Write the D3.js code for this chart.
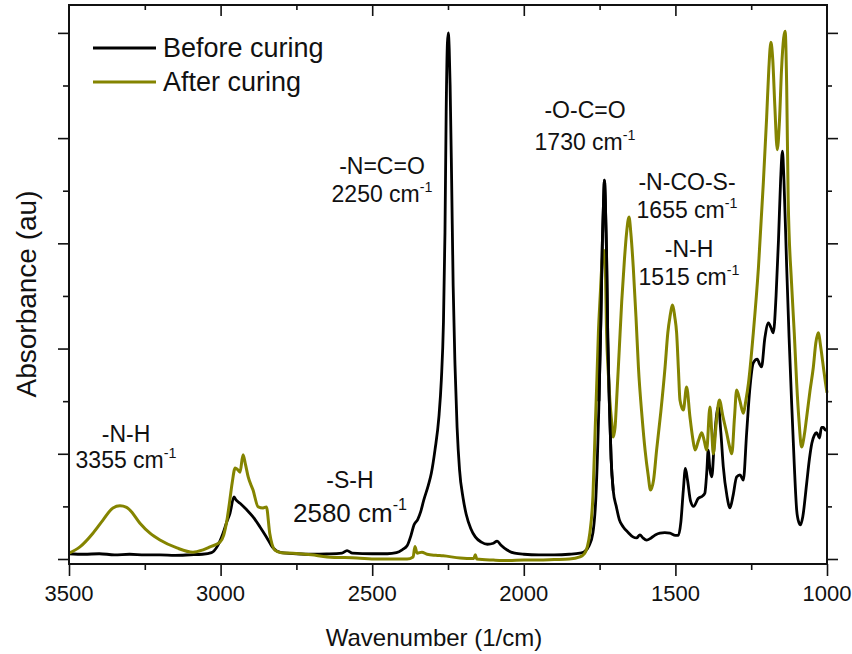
<!DOCTYPE html>
<html><head><meta charset="utf-8">
<script src="https://cdn.jsdelivr.net/npm/d3@7"></script>
<style>
body{margin:0;background:#fff;}
svg{display:block;font-family:"Liberation Sans",Arial,sans-serif;}
</style></head>
<body><svg id="c" width="852" height="654"></svg>
<script>
// ---- data ----
const beforeWave = [3500,3450,3400,3350,3300,3250,3200,3150,3100,3060,3030,3010,2992,2980,2969,2956,2950,2936,2913,2893,2870,2849,2827,2800,2750,2700,2650,2600,2583,2565,2500,2450,2420,2400,2385,2372,2362,2350,2340,2330,2315,2305,2293,2280,2272,2265,2260,2256,2252,2249,2246,2243,2238,2233,2227,2220,2212,2200,2190,2175,2160,2140,2120,2100,2088,2075,2055,2030,2000,1950,1900,1850,1815,1800,1785,1772,1762,1752,1746,1741,1737,1734,1731,1727,1723,1718,1712,1705,1695,1685,1672,1655,1640,1628,1617,1607,1595,1580,1565,1551,1535,1518,1500,1490,1482,1474,1467,1460,1450,1440,1425,1410,1403,1396,1392,1386,1380,1372,1364,1358,1350,1342,1330,1320,1310,1298,1287,1276,1265,1255,1243,1230,1222,1216,1205,1193,1185,1177,1168,1160,1153,1147,1142,1133,1125,1117,1108,1100,1093,1087,1080,1067,1058,1050,1042,1034,1025,1018,1012,1005,1000];
const beforeAbs = [0.010,0.009,0.010,0.008,0.009,0.008,0.008,0.007,0.008,0.009,0.012,0.025,0.049,0.070,0.087,0.118,0.113,0.106,0.093,0.080,0.061,0.042,0.021,0.012,0.010,0.009,0.0095,0.011,0.016,0.011,0.010,0.010,0.012,0.018,0.025,0.045,0.065,0.075,0.090,0.112,0.140,0.163,0.207,0.270,0.340,0.450,0.620,0.850,0.980,1.000,0.970,0.900,0.720,0.520,0.370,0.250,0.170,0.115,0.085,0.058,0.042,0.032,0.028,0.030,0.034,0.026,0.017,0.011,0.009,0.008,0.008,0.009,0.011,0.014,0.025,0.050,0.120,0.300,0.450,0.600,0.680,0.720,0.680,0.580,0.420,0.300,0.190,0.130,0.100,0.075,0.061,0.050,0.042,0.040,0.046,0.040,0.036,0.040,0.046,0.049,0.050,0.049,0.045,0.045,0.070,0.130,0.172,0.150,0.110,0.100,0.115,0.120,0.125,0.170,0.207,0.170,0.156,0.220,0.275,0.290,0.240,0.175,0.120,0.097,0.120,0.156,0.160,0.150,0.240,0.320,0.373,0.380,0.370,0.365,0.420,0.449,0.440,0.430,0.500,0.606,0.720,0.775,0.720,0.555,0.420,0.302,0.180,0.093,0.070,0.065,0.080,0.144,0.190,0.220,0.235,0.240,0.230,0.250,0.250,0.245,0.245];
const afterWave = [3500,3464,3421,3388,3355,3332,3310,3299,3266,3233,3200,3144,3091,3060,3035,3002,2990,2979,2970,2962,2952,2944,2936,2926,2918,2909,2893,2876,2860,2849,2838,2821,2800,2761,2700,2649,2550,2484,2420,2385,2365,2359,2352,2336,2319,2290,2266,2210,2165,2160,2155,2100,2050,2000,1950,1900,1850,1815,1800,1782,1772,1765,1759,1754,1748,1743,1736,1731,1727,1721,1716,1710,1705,1699,1694,1685,1677,1668,1661,1653,1647,1639,1630,1622,1610,1600,1590,1582,1572,1562,1548,1534,1525,1518,1509,1502,1496,1490,1485,1474,1463,1452,1443,1435,1424,1413,1405,1397,1386,1380,1375,1365,1355,1343,1331,1322,1314,1305,1298,1287,1276,1268,1259,1243,1226,1210,1199,1192,1185,1179,1172,1164,1157,1150,1143,1138,1133,1128,1117,1108,1100,1092,1084,1075,1067,1056,1045,1037,1029,1020,1012,1005,1000];
const afterAbs = [0.011,0.023,0.049,0.074,0.097,0.101,0.098,0.093,0.068,0.049,0.036,0.021,0.013,0.017,0.023,0.032,0.045,0.074,0.110,0.144,0.173,0.170,0.165,0.198,0.180,0.156,0.131,0.099,0.097,0.099,0.049,0.017,0.012,0.011,0.008,0.004,0.002,0.000,0.000,0.000,0.004,0.024,0.011,0.013,0.009,0.007,0.006,0.002,0.001,0.008,0.000,-0.002,-0.003,-0.002,-0.002,-0.001,0.000,0.004,0.010,0.050,0.120,0.240,0.340,0.430,0.500,0.555,0.587,0.550,0.430,0.350,0.300,0.260,0.232,0.250,0.300,0.400,0.490,0.570,0.620,0.650,0.620,0.555,0.460,0.365,0.270,0.207,0.160,0.131,0.150,0.207,0.280,0.365,0.430,0.460,0.483,0.460,0.430,0.360,0.302,0.283,0.327,0.270,0.230,0.207,0.225,0.240,0.225,0.207,0.289,0.240,0.200,0.260,0.302,0.270,0.240,0.215,0.200,0.270,0.321,0.300,0.277,0.300,0.334,0.430,0.555,0.715,0.840,0.930,0.982,0.950,0.860,0.778,0.830,0.930,0.990,1.003,0.900,0.682,0.525,0.430,0.334,0.260,0.213,0.235,0.270,0.320,0.365,0.410,0.430,0.400,0.365,0.335,0.316];
const seriesNames = ["Before curing","After curing"];
const seriesColors = ["#000000","#848400"];
const xMajorTicks = [3500,3000,2500,2000,1500,1000];
const xMinorTicks = [3250,2750,2250,1750,1250];
const yMajorTicks = [0,0.2,0.4,0.6,0.8,1.0];
const yMinorTicks = [0.1,0.3,0.5,0.7,0.9];
const annGroups = ["-N-H","-S-H","-N=C=O","-O-C=O","-N-CO-S-","-N-H"];
const annPeaks = ["3355","2580","2250","1730","1655","1515"];

// ---- layout ----
const L=69, R=827, T=5, B=564;
const x = d3.scaleLinear().domain([3500,1000]).range([L,R]);
const y = d3.scaleLinear().domain([-0.0095,1.053]).range([B,T]);
const svg = d3.select("#c");

function ax(gen, tr, vals, size){
  const g = svg.append("g").attr("transform",tr)
    .call(gen.tickValues(vals).tickSize(size).tickSizeOuter(0).tickFormat(""));
  g.select(".domain").remove();
  g.selectAll("line").attr("stroke","#111").attr("stroke-width",1.6);
  return g;
}
ax(d3.axisBottom(x), `translate(0,${B})`, xMajorTicks, 12);
ax(d3.axisBottom(x), `translate(0,${B})`, xMinorTicks, 6);
ax(d3.axisBottom(x), `translate(0,${T})`, xMajorTicks.slice(1,-1), 11);
ax(d3.axisBottom(x), `translate(0,${T})`, xMinorTicks, 5);
ax(d3.axisLeft(y), `translate(${L},0)`, yMajorTicks, 11);
ax(d3.axisLeft(y), `translate(${L},0)`, yMinorTicks, 6);
ax(d3.axisLeft(y), `translate(${R},0)`, yMajorTicks, -11);
ax(d3.axisLeft(y), `translate(${R},0)`, yMinorTicks, -5);

svg.append("g").selectAll("text").data(xMajorTicks).join("text")
  .attr("x",d=>x(d)).attr("y",601).attr("text-anchor","middle")
  .attr("font-size",22).attr("fill","#111").text(d=>d);

const line = d3.line().x(d=>x(d[0])).y(d=>y(d[1])).curve(d3.curveMonotoneX);
const sets = [d3.zip(beforeWave,beforeAbs), d3.zip(afterWave,afterAbs)];
svg.append("path").datum(sets[0]).attr("d",line).attr("fill","none")
  .attr("stroke",seriesColors[0]).attr("stroke-width",2.8).attr("stroke-linejoin","round");
svg.append("path").datum(sets[1]).attr("d",line).attr("fill","none")
  .attr("stroke",seriesColors[1]).attr("stroke-width",3).attr("stroke-linejoin","round");
svg.append("path").datum(sets[0].filter(d=>d[0]<=1760&&d[0]>=1700)).attr("d",line).attr("fill","none")
  .attr("stroke",seriesColors[0]).attr("stroke-width",2.8);

svg.append("rect").attr("x",L).attr("y",T).attr("width",R-L).attr("height",B-T)
  .attr("fill","none").attr("stroke","#111").attr("stroke-width",2);

const leg = svg.append("g");
seriesNames.forEach((n,i)=>{
  const yy = 48 + i*34;
  leg.append("line").attr("x1",93).attr("x2",156).attr("y1",yy).attr("y2",yy)
    .attr("stroke",seriesColors[i]).attr("stroke-width",3);
  leg.append("text").attr("x",163).attr("y",yy+9).attr("font-size",27).attr("fill","#111").text(n);
});

const annLayout = [
  {cx:126, b1:442, b2:468, fs1:23, fs2:23},
  {cx:350, b1:488, b2:522, fs1:23, fs2:26},
  {cx:382, b1:174, b2:202, fs1:23, fs2:23},
  {cx:585, b1:118, b2:150, fs1:23, fs2:23},
  {cx:687, b1:190, b2:218, fs1:23, fs2:23},
  {cx:689, b1:257, b2:285, fs1:23, fs2:23}
];
annGroups.forEach((g,i)=>{
  const p = annLayout[i];
  svg.append("text").attr("x",p.cx).attr("y",p.b1).attr("text-anchor","middle")
    .attr("font-size",p.fs1).attr("fill","#111").text(g);
  const t = svg.append("text").attr("x",p.cx).attr("y",p.b2).attr("text-anchor","middle")
    .attr("font-size",p.fs2).attr("fill","#111");
  t.append("tspan").text(annPeaks[i]+" cm");
  t.append("tspan").attr("font-size",p.fs2*0.62).attr("dy",-p.fs2*0.45).text("-1");
});

svg.append("text").attr("x",434).attr("y",646).attr("text-anchor","middle")
  .attr("font-size",24).attr("fill","#111").text("Wavenumber (1/cm)");
svg.append("text").attr("transform","translate(36,294) rotate(-90)").attr("text-anchor","middle")
  .attr("font-size",28).attr("fill","#111").text("Absorbance (au)");
</script></body></html>
